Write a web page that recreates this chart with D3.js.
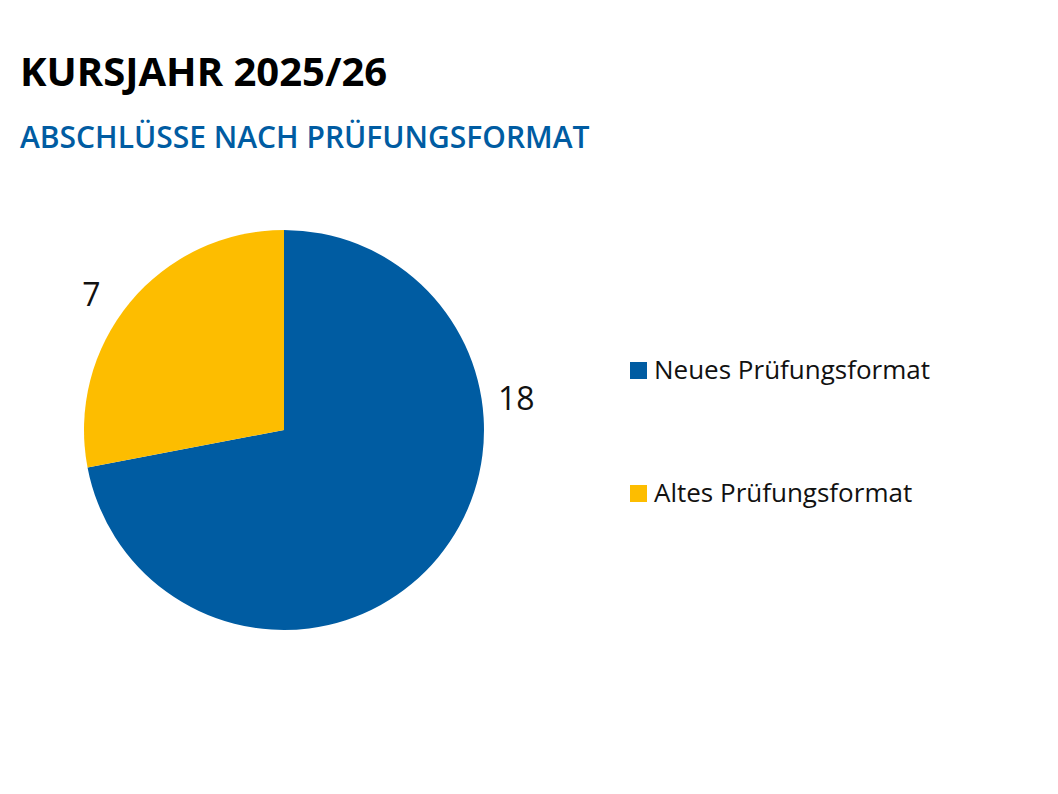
<!DOCTYPE html>
<html><head><meta charset="utf-8">
<script src="https://cdn.jsdelivr.net/npm/d3@7"></script>
<style>body{margin:0;background:#fff}svg{font-family:"Open Sans","Noto Sans",sans-serif}</style>
</head><body>
<svg id="c" width="1058" height="794"></svg>
<script>
const categories = ["Neues Prüfungsformat", "Altes Prüfungsformat"];
const values = [18, 7];
const colors = ["#005ca2", "#fdbd00"];

const svg = d3.select("#c");
svg.append("text").attr("x", 20).attr("y", 86).attr("font-size", 40).attr("font-weight", 700).attr("fill", "#000").text("KURSJAHR 2025/26");
svg.append("text").attr("x", 20).attr("y", 148).attr("font-size", 30).attr("font-weight", 600).attr("fill", "#005ca2").text("ABSCHLÜSSE NACH PRÜFUNGSFORMAT");

const cx = 284, cy = 430, r = 200;
const pie = d3.pie().sort(null)(values);
const arc = d3.arc().innerRadius(0).outerRadius(r);
const labelArc = d3.arc().innerRadius(r + 30).outerRadius(r + 30);
const g = svg.append("g").attr("transform", `translate(${cx},${cy})`);
g.selectAll("path").data(pie).join("path").attr("d", arc).attr("fill", (d, i) => colors[i]);

// labels placed at the outer end of each slice
const labelAngles = [pie[0].startAngle + (pie[0].endAngle - pie[0].startAngle) * 0.32, pie[1].startAngle + (pie[1].endAngle - pie[1].startAngle) * 0.45];
g.selectAll("text.lbl").data(pie).join("text").attr("class", "lbl")
  .attr("x", (d, i) => Math.sin(labelAngles[i]) * (r + 34))
  .attr("y", (d, i) => -Math.cos(labelAngles[i]) * (r + 34))
  .attr("text-anchor", "middle").attr("dominant-baseline", "middle")
  .attr("font-size", 32).attr("fill", "#111").text(d => d.data);

const leg = svg.append("g").selectAll("g").data(categories).join("g")
  .attr("transform", (d, i) => `translate(630,${362 + i * 123})`);
leg.append("rect").attr("width", 17).attr("height", 17).attr("fill", (d, i) => colors[i]);
leg.append("text").attr("x", 24).attr("y", 17).attr("font-size", 26).attr("fill", "#111").text(d => d);
</script>
</body></html>
